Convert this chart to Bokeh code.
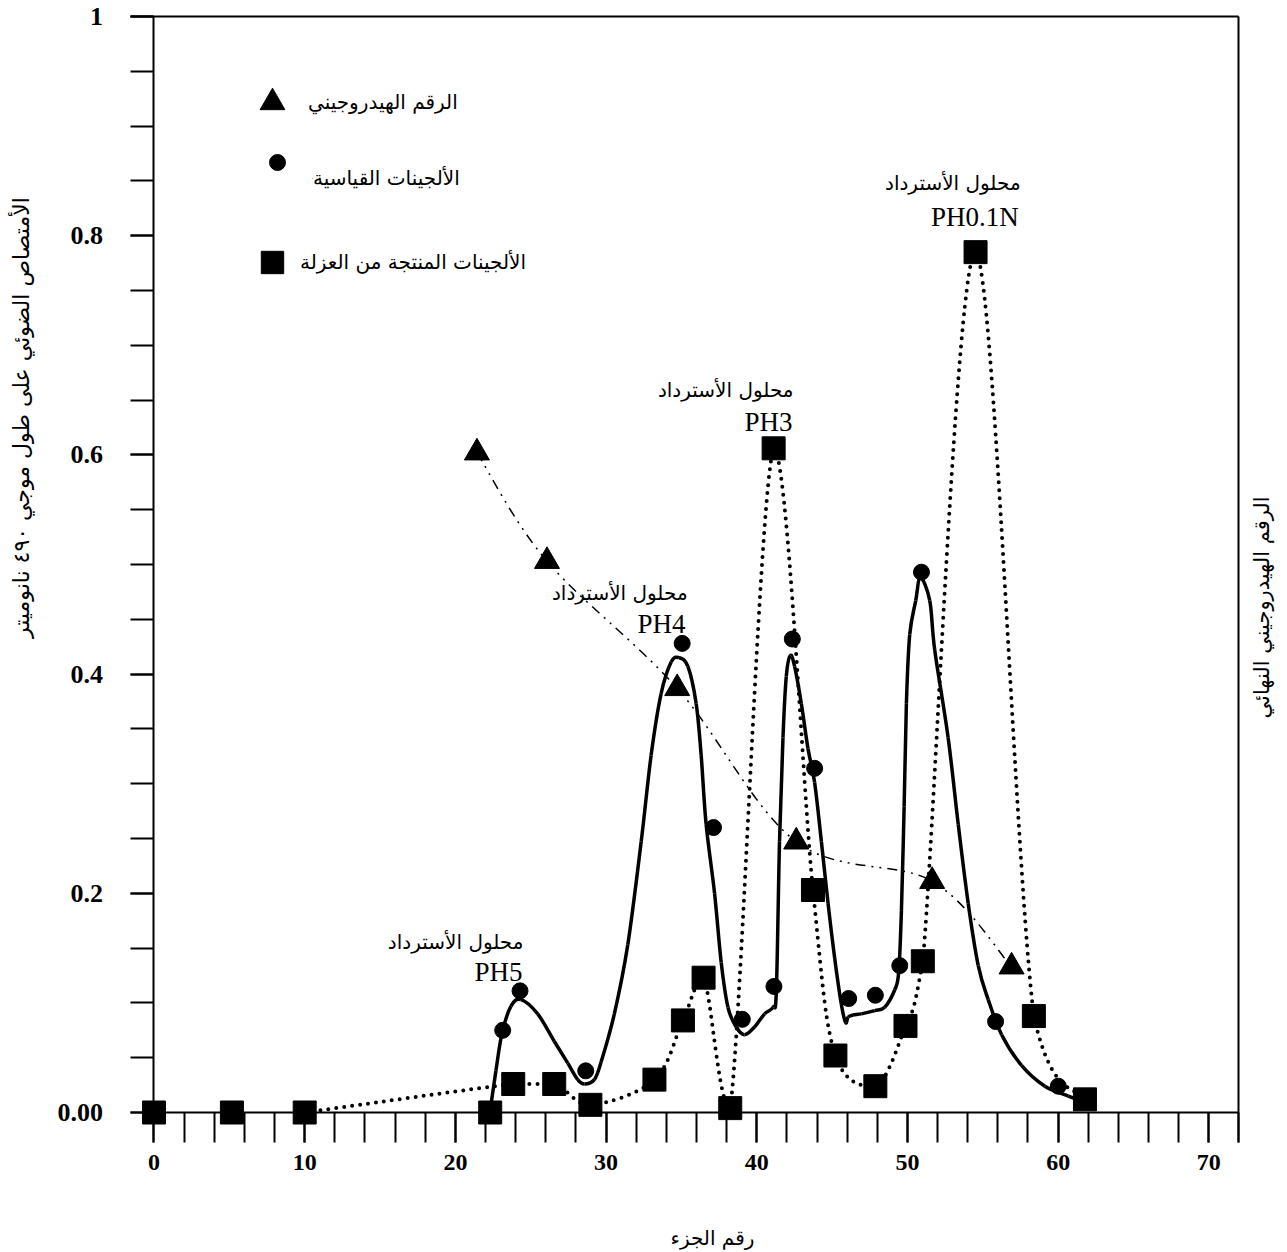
from math import pi
from bokeh.plotting import figure
from bokeh.models import (Range1d, FixedTicker, Legend, LegendItem, Label, ColumnDataSource,
                          LinearAxis)
from bokeh.embed import file_html
from bokeh.resources import INLINE

# ---------------- data ----------------
# pH (triangles, dash-dot line)
ph_x = [21.43, 26.08, 34.72, 42.62, 51.64, 56.91]
ph_y = [0.602, 0.503, 0.387, 0.247, 0.211, 0.133]

# standard alginates (circles)
std_x = [23.14, 24.29, 28.65, 35.05, 37.13, 39.04, 41.14, 42.36, 43.84, 46.10, 47.87, 49.49, 50.93, 55.85, 60.01]
std_y = [0.075, 0.111, 0.038, 0.428, 0.260, 0.085, 0.115, 0.432, 0.314, 0.104, 0.107, 0.134, 0.493, 0.083, 0.024]

# standard alginates elution curve (solid line)
fit_x = [22.29, 22.69, 23.09, 23.69, 24.35, 25.46, 26.56, 27.46, 28.12, 28.56, 29.22, 29.67, 30.55, 31.44,
         32.33, 32.99, 33.65, 34.32, 34.83, 35.43, 35.98, 36.31, 36.64, 37.20, 37.64, 38.09, 38.64, 39.19,
         39.85, 40.52, 41.08, 41.30, 41.51, 41.74, 41.96, 42.23, 42.51, 42.96, 43.40, 43.84, 44.29, 44.73,
         45.17, 45.61, 45.90, 46.06, 46.39, 46.94, 47.83, 48.49, 49.16, 49.42, 49.60, 49.78, 49.93, 50.15,
         50.55, 50.86, 51.48, 51.81, 52.70, 53.37, 54.03, 54.70, 55.36, 56.25, 57.57, 59.12, 60.68, 61.67]
fit_y = [0.0, 0.038, 0.072, 0.097, 0.103, 0.090, 0.065, 0.045, 0.030, 0.026, 0.030, 0.046, 0.090, 0.153,
         0.247, 0.326, 0.382, 0.411, 0.415, 0.407, 0.373, 0.326, 0.263, 0.200, 0.137, 0.096, 0.078, 0.071,
         0.078, 0.090, 0.096, 0.111, 0.247, 0.342, 0.398, 0.417, 0.407, 0.373, 0.332, 0.301, 0.247, 0.191,
         0.141, 0.099, 0.082, 0.087, 0.089, 0.090, 0.093, 0.096, 0.112, 0.128, 0.184, 0.279, 0.373, 0.436,
         0.467, 0.488, 0.467, 0.422, 0.342, 0.263, 0.191, 0.134, 0.103, 0.071, 0.043, 0.024, 0.015, 0.010]

# isolate alginates (squares joined by dotted line)
iso_x = [10.0, 23.84, 26.56, 28.96, 33.21, 35.10, 36.47, 38.24, 41.12, 43.73, 45.22, 47.87, 49.87, 51.02, 54.52, 58.39, 61.78]
iso_y = [0.0, 0.026, 0.026, 0.007, 0.030, 0.084, 0.123, 0.004, 0.606, 0.203, 0.052, 0.024, 0.079, 0.138, 0.785, 0.088, 0.012]
# isolate alginates squares not joined by the line
iso_free_x = [0.0, 5.17, 22.31]
iso_free_y = [0.0, 0.0, 0.0]

x_tick_values = [0, 10, 20, 30, 40, 50, 60, 70]
x_minor_values = list(range(0, 73, 2))
y_tick_values = [0, 0.2, 0.4, 0.6, 0.8, 1]
y_tick_labels = ["0.00", "0.2", "0.4", "0.6", "0.8", "1"]
y_minor_values = [round(0.05 * k, 2) for k in range(21)]

legend_labels = ["الرقم الهيدروجيني", "الألجينات القياسية", "الألجينات المنتجة من العزلة"]
buffer_text = "محلول الأسترداد"
peak_labels = ["PH5", "PH4", "PH3", "PH0.1N"]
x_title = "رقم الجزء"
y_title = "الأمتصاص الضوئي على طول موجي ٤٩٠ نانوميتر"
y2_title = "الرقم الهيدروجيني النهائي"

AR_FONT = "DejaVu Sans"
SERIF = "Liberation Serif"


def smooth_segments(xs, ys, clamp=False):
    """Cubic Bezier (Catmull-Rom) segments through the given points.
    With clamp=True the control points never leave the vertical span of their segment,
    so the curve does not overshoot between neighbouring points."""
    n = len(xs)
    d = dict(x0=[], y0=[], x1=[], y1=[], cx0=[], cy0=[], cx1=[], cy1=[])
    for i in range(n - 1):
        xp, yp = (xs[i - 1], ys[i - 1]) if i > 0 else (xs[i], ys[i])
        xn, yn = (xs[i + 2], ys[i + 2]) if i + 2 < n else (xs[i + 1], ys[i + 1])
        c0y = ys[i] + (ys[i + 1] - yp) / 6.0
        c1y = ys[i + 1] - (yn - ys[i]) / 6.0
        if clamp:
            lo, hi = min(ys[i], ys[i + 1]), max(ys[i], ys[i + 1])
            c0y = min(max(c0y, lo), hi)
            c1y = min(max(c1y, lo), hi)
        d["x0"].append(xs[i]); d["y0"].append(ys[i])
        d["x1"].append(xs[i + 1]); d["y1"].append(ys[i + 1])
        d["cx0"].append(xs[i] + (xs[i + 1] - xp) / 6.0)
        d["cy0"].append(c0y)
        d["cx1"].append(xs[i + 1] - (xn - xs[i]) / 6.0)
        d["cy1"].append(c1y)
    return ColumnDataSource(d)


# the frame covers the whole canvas; axes are drawn at fixed data locations
p = figure(frame_width=1287, frame_height=1252,
           x_range=Range1d(-10.1865, 75.221), y_range=Range1d(-0.127737, 1.014599),
           min_border=0, output_backend="svg", toolbar_location=None)
p.title.visible = False
p.grid.visible = False
p.background_fill_color = "white"
p.border_fill_color = "white"
p.outline_line_color = None

AX_X0, AX_X1 = -1.5595, 72      # extent of top border line
AX_Y0 = -0.02737                # lower end of right border line

xa = p.xaxis[0]
xa.fixed_location = 0
xa.bounds = (0, 72)
xa.ticker = FixedTicker(ticks=x_tick_values, minor_ticks=x_minor_values)
xa.major_tick_in = 0
xa.major_tick_out = 30
xa.minor_tick_in = 0
xa.minor_tick_out = 30
xa.major_tick_line_width = 2
xa.minor_tick_line_width = 2
xa.axis_line_width = 2
xa.major_label_standoff = 12
xa.major_label_text_font = SERIF
xa.major_label_text_font_style = "bold"
xa.major_label_text_font_size = "24px"
xa.major_label_text_color = "black"

ya = p.yaxis[0]
ya.fixed_location = 0
ya.bounds = (0, 1)
ya.ticker = FixedTicker(ticks=y_tick_values, minor_ticks=y_minor_values)
ya.major_label_overrides = dict(zip(y_tick_values, y_tick_labels))
ya.major_tick_in = 0
ya.major_tick_out = 23
ya.minor_tick_in = 0
ya.minor_tick_out = 23
ya.major_tick_line_width = 2
ya.minor_tick_line_width = 2
ya.axis_line_width = 2
ya.major_label_standoff = 28
ya.major_label_text_font = SERIF
ya.major_label_text_font_style = "bold"
ya.major_label_text_font_size = "26px"
ya.major_label_text_color = "black"

# top and right border lines
top_ax = LinearAxis(fixed_location=1, bounds=(AX_X0, AX_X1), ticker=FixedTicker(ticks=[]),
                    major_tick_out=0, minor_tick_out=0, major_label_text_font_size="0px",
                    axis_line_width=2, axis_line_color="black")
p.add_layout(top_ax, "above")
right_ax = LinearAxis(fixed_location=72, bounds=(AX_Y0, 1), ticker=FixedTicker(ticks=[]),
                      major_tick_out=0, minor_tick_out=0, major_label_text_font_size="0px",
                      axis_line_width=2, axis_line_color="black")
p.add_layout(right_ax, "right")

# axis titles
p.add_layout(Label(x=-8.793, y=0.6341, text=y_title, angle=pi / 2, text_align="center",
                   text_baseline="middle", text_font=AR_FONT, text_font_size="22px", text_color="black"))
p.add_layout(Label(x=73.56, y=0.4608, text=y2_title, angle=pi / 2, text_align="center",
                   text_baseline="middle", text_font=AR_FONT, text_font_size="21px", text_color="black"))
p.add_layout(Label(x=37.06, y=-0.1141, text=x_title, text_align="center",
                   text_baseline="middle", text_font=AR_FONT, text_font_size="20px", text_color="black"))

# lines
p.bezier(x0="x0", y0="y0", x1="x1", y1="y1", cx0="cx0", cy0="cy0", cx1="cx1", cy1="cy1",
         source=smooth_segments(ph_x, ph_y), line_color="black", line_width=1.5,
         line_dash="10 6 2 6 2 6")
p.bezier(x0="x0", y0="y0", x1="x1", y1="y1", cx0="cx0", cy0="cy0", cx1="cx1", cy1="cy1",
         source=smooth_segments(iso_x, iso_y, clamp=True), line_color="black", line_width=4,
         line_dash="0 8", line_cap="round")
p.bezier(x0="x0", y0="y0", x1="x1", y1="y1", cx0="cx0", cy0="cy0", cx1="cx1", cy1="cy1",
         source=smooth_segments(fit_x, fit_y), line_color="black", line_width=3.5)

# markers
r_iso = p.scatter(iso_x, iso_y, marker="square", size=23, color="black")
p.scatter(iso_free_x, iso_free_y, marker="square", size=23, color="black")
r_std = p.scatter(std_x, std_y, marker="circle", size=16, color="black")
r_ph = p.scatter(ph_x, ph_y, marker="triangle", size=25, color="black")


# legends (placed like the reference keys)
def make_legend(label, renderer, loc, glyph, standoff, label_h=20):
    lg = Legend(items=[LegendItem(label=label, renderers=[renderer])], location=loc,
                glyph_width=glyph, glyph_height=glyph, label_standoff=standoff, label_height=label_h,
                padding=0, margin=0, spacing=0, border_line_alpha=0, background_fill_alpha=0,
                label_text_font=AR_FONT, label_text_font_size="20px",
                label_text_color="black")
    p.add_layout(lg, "center")


make_legend(legend_labels[0], r_ph, (241, 1119), 62, 5)
make_legend(" ", r_std, (257, 1070), 40, 0)
make_legend(legend_labels[1], r_std, (312, 1059), 1, 0, 30)
make_legend(legend_labels[2], r_iso, (244, 962), 56, 0)

# peak annotations
ann = [(24.52, 0.156, 24.45, 0.128), (35.41, 0.474, 35.27, 0.446),
       (42.44, 0.659, 42.37, 0.630), (57.51, 0.848, 57.38, 0.817)]
for (ax_, ay_, bx_, by_), lab in zip(ann, peak_labels):
    p.add_layout(Label(x=ax_, y=ay_, text=buffer_text, text_align="right", text_baseline="middle",
                       text_font=AR_FONT, text_font_size="20px", text_color="black"))
    p.add_layout(Label(x=bx_, y=by_, text=lab, text_align="right", text_baseline="middle",
                       text_font=SERIF, text_font_size="27px", text_color="black"))

open("out.html", "w").write(file_html(p, INLINE))
